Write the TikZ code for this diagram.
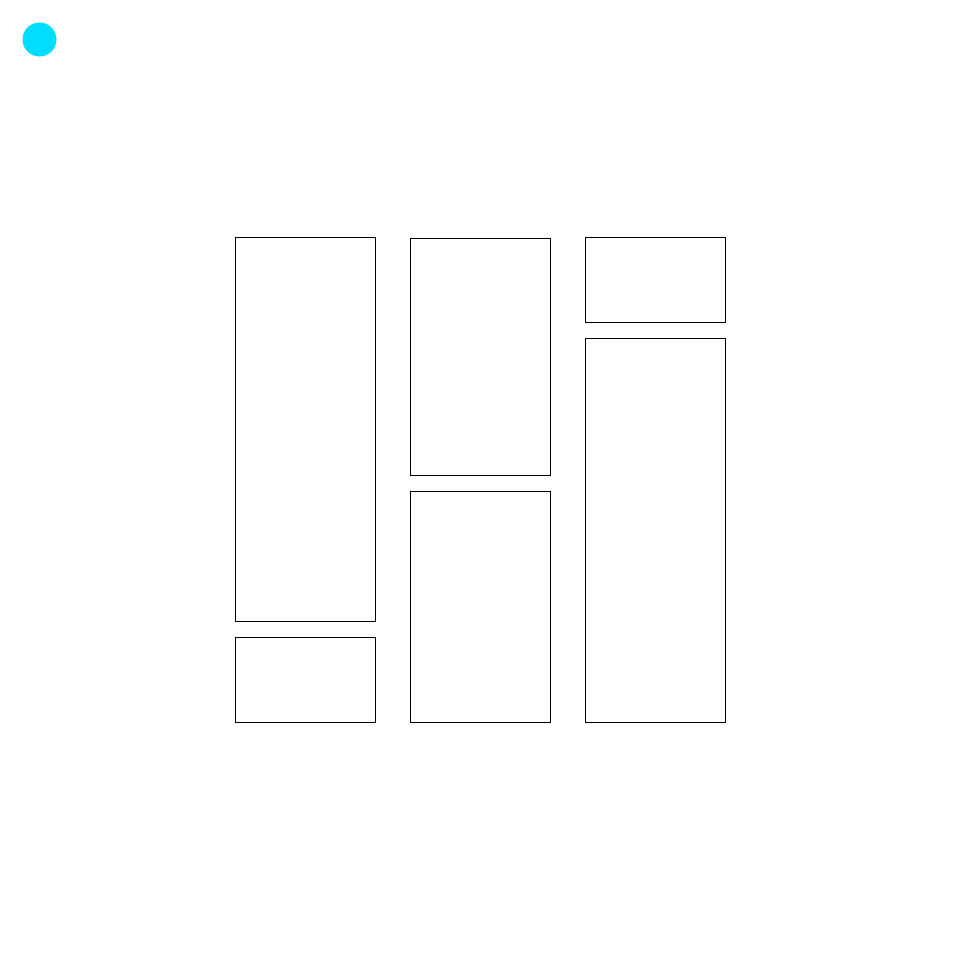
\documentclass[tikz,border=0pt]{standalone}
\definecolor{dotcyan}{RGB}{0,221,255}
\begin{document}
\begin{tikzpicture}[x=1pt,y=-1pt,
  panel/.style={draw=black,line width=0.8pt,fill=white},
  dot/.style={circle,fill=dotcyan,draw=none,minimum size=34pt,inner sep=0pt}]
\useasboundingbox[fill=white] (0,0) rectangle (961,961);
\node[dot] (d) at (39.5,39.5) {};
\draw[panel] (235.5,237.5) rectangle (375.5,621.5);
\draw[panel] (235.5,637.5) rectangle (375.5,722.5);
\draw[panel] (410.5,238.5) rectangle (550.5,475.5);
\draw[panel] (410.5,491.5) rectangle (550.5,722.5);
\draw[panel] (585.5,237.5) rectangle (725.5,322.5);
\draw[panel] (585.5,338.5) rectangle (725.5,722.5);
\end{tikzpicture}
\end{document}
